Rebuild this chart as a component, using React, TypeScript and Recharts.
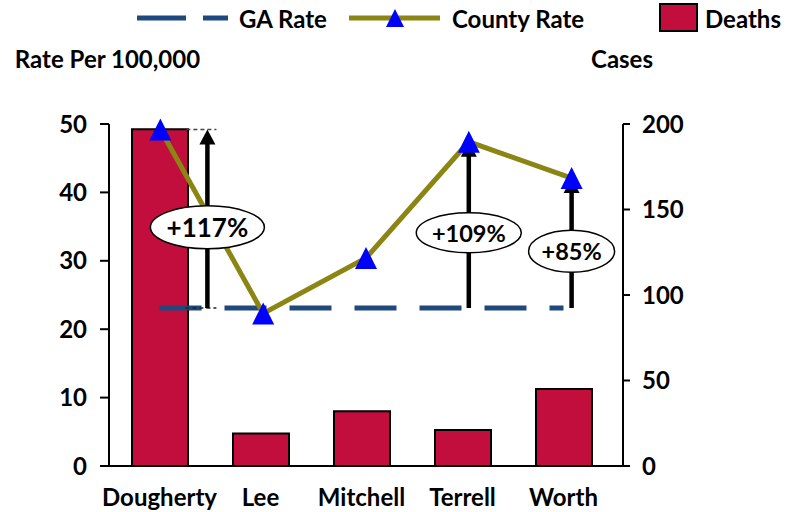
import React from "react";
import { ComposedChart, Bar, Line, XAxis, YAxis, Legend, ReferenceLine, ReferenceDot } from "recharts";

document.body.style.margin = "0";

const counties = ["Dougherty", "Lee", "Mitchell", "Terrell", "Worth"];
const deaths = [197, 19, 32, 21, 45];
const countyRate = [49.2, 22.3, 30.4, 47.4, 42.1];
const gaRate = [23.1, 23.1, 23.1, 23.1, 23.1];
const rateTicks = [0, 10, 20, 30, 40, 50];
const caseTicks = [0, 50, 100, 150, 200];

// increase callouts: county, label, height of the bubble (rate units)
const calloutCounties = ["Dougherty", "Terrell", "Worth"];
const calloutLabels = ["+117%", "+109%", "+85%"];
const calloutAt = [34.9, 34.1, 31.4];

const data = counties.map((c, i) => ({
  county: c,
  deaths: deaths[i],
  countyRate: countyRate[i],
  gaRate: gaRate[i],
}));

const FONT = "Lato, 'Open Sans', sans-serif";
const CRIMSON = "#C20E3C";
const OLIVE = "#8B8513";
const NAVY = "#1F497D";
const BLUE = "#0000FF";

// Dougherty arrow sits beside the point, not on it
const calloutShift = [47, 0, 0];
const bubbles = [
  { rx: 57, ry: 21.5, fontSize: 26 },
  { rx: 52.5, ry: 20, fontSize: 23.5 },
  { rx: 43, ry: 21, fontSize: 23.5 },
];

const textStyle = { fontSize: 24, fontWeight: 700, fill: "#000", fontFamily: FONT };

function Triangle(props: any) {
  const { cx, cy, index } = props;
  if (cx == null || cy == null) return <g key={index} />;
  return (
    <path
      key={index}
      d={`M${cx},${cy - 11} L${cx + 11},${cy + 11} L${cx - 11},${cy + 11} Z`}
      fill={BLUE}
    />
  );
}

function makeArrow(shift: number) {
  return (props: any) => {
    const { x1, y1, y2 } = props;
    const x = x1 + shift;
    return (
      <g>
        {shift !== 0 && (
          <>
            <line x1={x - 21} x2={x + 9} y1={y2} y2={y2} stroke="#444" strokeWidth={1.5} strokeDasharray="4 3" />
            <line x1={x - 22} x2={x + 9} y1={y1} y2={y1} stroke="#222" strokeWidth={1.5} strokeDasharray="4 3" />
          </>
        )}
        <line x1={x} x2={x} y1={y1} y2={y2 + 12} stroke="#000" strokeWidth={4.5} />
        <path d={`M${x},${y2} L${x + 8},${y2 + 15} L${x - 8},${y2 + 15} Z`} fill="#000" />
      </g>
    );
  };
}

function makeBubble(i: number) {
  return (props: any) => {
    const { cx, cy } = props;
    const b = bubbles[i];
    const x = cx + calloutShift[i];
    return (
      <g>
        <ellipse cx={x} cy={cy} rx={b.rx} ry={b.ry} fill="#fff" stroke="#000" strokeWidth={1.5} />
        <text
          x={x}
          y={cy}
          textAnchor="middle"
          dominantBaseline="central"
          fontSize={b.fontSize}
          fontWeight={700}
          fontFamily={FONT}
          fill="#000"
        >
          {calloutLabels[i]}
        </text>
      </g>
    );
  };
}

function LegendBox() {
  return (
    <svg width={790} height={40}>
      <line x1={137} x2={228} y1={18} y2={18} stroke={NAVY} strokeWidth={5} strokeDasharray="49 17" />
      <text x={239} y={28} {...textStyle}>GA Rate</text>
      <line x1={349} x2={440} y1={18} y2={18} stroke={OLIVE} strokeWidth={5} />
      <path d="M395,9 L404,27 L386,27 Z" fill={BLUE} />
      <text x={452} y={28} {...textStyle}>County Rate</text>
      <rect x={660} y={4} width={37} height={27} fill={CRIMSON} stroke="#000" strokeWidth={2} />
      <text x={705} y={28} {...textStyle}>Deaths</text>
    </svg>
  );
}

export default function App() {
  return (
    <ComposedChart
      width={790}
      height={512}
      data={data}
      margin={{ top: 124, right: 97, bottom: 6, left: 0 }}
      style={{ fontFamily: FONT }}
    >
      <XAxis
        dataKey="county"
        xAxisId="bars"
        padding={{ left: 0, right: 9 }}
        axisLine={{ stroke: "#000", strokeWidth: 2 }}
        tickLine={false}
        tickSize={0}
        tickMargin={23}
        height={40}
        tick={textStyle}
        interval={0}
      />
      <XAxis dataKey="county" xAxisId="line" hide />
      <YAxis
        yAxisId="rate"
        domain={[0, 50]}
        ticks={rateTicks}
        width={109}
        axisLine={{ stroke: "#000", strokeWidth: 2 }}
        tickLine={{ stroke: "#000", strokeWidth: 2 }}
        tickSize={9}
        tickMargin={13}
        tick={textStyle}
        label={{
          value: "Rate Per 100,000",
          position: "top",
          offset: 56,
          dx: 53,
          style: textStyle,
        }}
      />
      <YAxis
        yAxisId="cases"
        orientation="right"
        domain={[0, 200]}
        ticks={caseTicks}
        width={70}
        axisLine={{ stroke: "#000", strokeWidth: 2 }}
        tickLine={{ stroke: "#000", strokeWidth: 2 }}
        tickSize={7}
        tickMargin={12}
        tick={textStyle}
        label={{
          value: "Cases",
          position: "top",
          offset: 56,
          dx: -36,
          style: textStyle,
        }}
      />
      <Legend
        verticalAlign="middle"
        align="center"
        wrapperStyle={{ top: 0, left: 0, width: 790, height: 40 }}
        content={() => <LegendBox />}
      />
      <Bar
        dataKey="deaths"
        name="Deaths"
        xAxisId="bars"
        yAxisId="cases"
        barSize={56}
        fill={CRIMSON}
        stroke="#000"
        strokeWidth={2}
        isAnimationActive={false}
      />
      <Line
        dataKey="gaRate"
        name="GA Rate"
        xAxisId="bars"
        yAxisId="rate"
        stroke={NAVY}
        strokeWidth={5}
        strokeDasharray="42 23"
        dot={false}
        activeDot={false}
        isAnimationActive={false}
      />
      {calloutCounties.map((c, i) => {
        const idx = counties.indexOf(c);
        return (
          <ReferenceLine
            key={`arrow-${c}`}
            xAxisId="line"
            yAxisId="rate"
            segment={[
              { x: c, y: gaRate[idx] },
              { x: c, y: countyRate[idx] },
            ]}
            shape={makeArrow(calloutShift[i])}
          />
        );
      })}
      <Line
        dataKey="countyRate"
        name="County Rate"
        xAxisId="line"
        yAxisId="rate"
        stroke={OLIVE}
        strokeWidth={5}
        dot={<Triangle />}
        activeDot={false}
        isAnimationActive={false}
      />
      {calloutCounties.map((c, i) => (
        <ReferenceDot
          key={`bubble-${c}`}
          xAxisId="line"
          yAxisId="rate"
          x={c}
          y={calloutAt[i]}
          shape={makeBubble(i)}
        />
      ))}
    </ComposedChart>
  );
}
